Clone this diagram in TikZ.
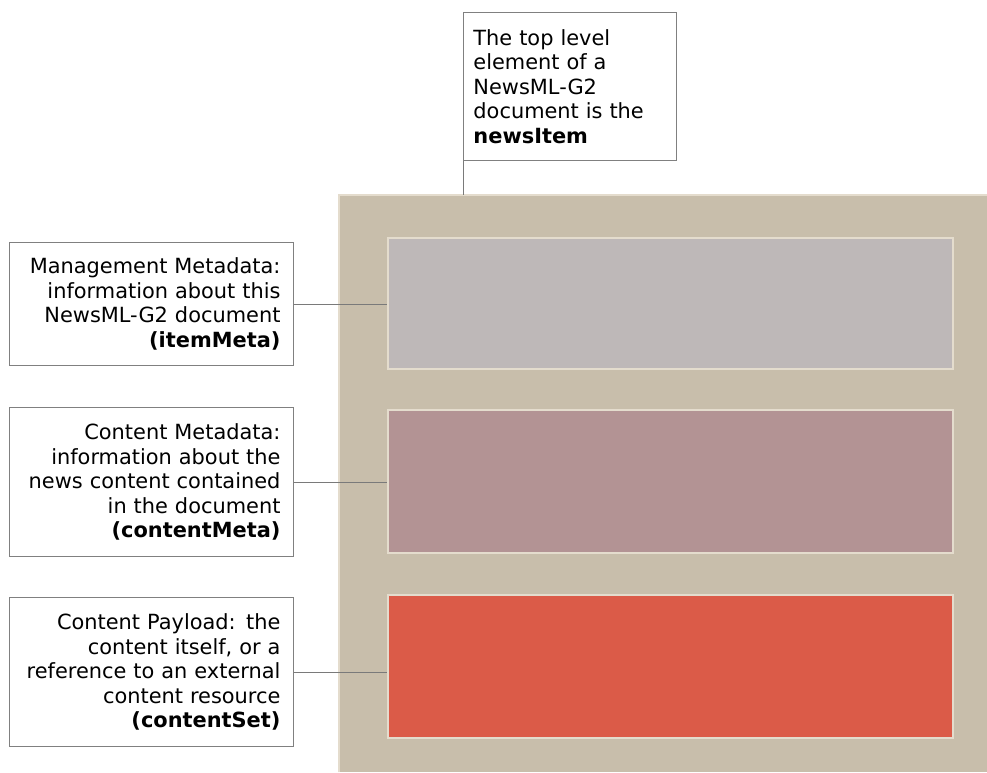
\documentclass[tikz,border=0pt]{standalone}
\usepackage{fontspec}
\setmainfont{DejaVu Sans}
\definecolor{itemtan}{HTML}{C8BEAB}
\definecolor{itemedge}{HTML}{E4DCCD}
\definecolor{metagray}{HTML}{BEB8B8}
\definecolor{metamauve}{HTML}{B39394}
\definecolor{payloadred}{HTML}{DB5B48}
\definecolor{notegray}{HTML}{808080}
\definecolor{linkgray}{HTML}{7A7A7A}
\begin{document}
\begin{tikzpicture}[x=1pt,y=-1pt,
  note/.style={draw=notegray, line width=0.9pt, fill=white, inner ysep=0pt,
    font=\fontsize{20.9}{24.5}\selectfont},
  sidenote/.style={note, anchor=north west, inner xsep=13pt, text width=258pt,
    align=right},
  part/.style={draw=itemedge, line width=1.6pt, anchor=north west, inner sep=0pt,
    minimum width=565pt},
  link/.style={draw=linkgray, line width=0.9pt}]
\useasboundingbox (0,0) rectangle (987,772);

% the newsItem container and its three parts
\node[fill=itemtan, anchor=north west, inner sep=0pt, minimum width=648pt,
  minimum height=577pt] (item) at (339,195) {};
\draw[itemedge, line width=1.4pt] (item.south west) -- (item.north west) -- (item.north east);
\node[part, fill=metagray, minimum height=131pt] (itemmeta) at (387,237) {};
\node[part, fill=metamauve, minimum height=143pt] (contentmeta) at (387,409) {};
\node[part, fill=payloadred, minimum height=143pt] (contentset) at (387,594) {};

% explanatory notes
\node[note, anchor=north west, inner xsep=10pt, text width=193pt, align=left,
  minimum height=148pt] (top) at (463,12)
  {The top level\\element of a\\NewsML-G2\\document is the\\\textbf{newsItem}};
\node[sidenote, minimum height=123pt] (mgmt) at (9,242)
  {Management Metadata:\\information about this\\NewsML-G2 document\\\textbf{(itemMeta)}};
\node[sidenote, minimum height=149pt] (cmeta) at (9,407)
  {Content Metadata:\\information about the\\news content contained\\in the document\\\textbf{(contentMeta)}};
\node[sidenote, minimum height=149pt] (payload) at (9,597)
  {Content Payload: the\\content itself, or a\\reference to an external\\content resource\\\textbf{(contentSet)}};

% connectors
\draw[link] (top.south west) -- (top.south west |- item.north);
\draw[link] (mgmt.east) -- (mgmt.east -| itemmeta.west);
\draw[link] (cmeta.east) -- (cmeta.east -| contentmeta.west);
\draw[link] (payload.east) -- (payload.east -| contentset.west);
\end{tikzpicture}
\end{document}
